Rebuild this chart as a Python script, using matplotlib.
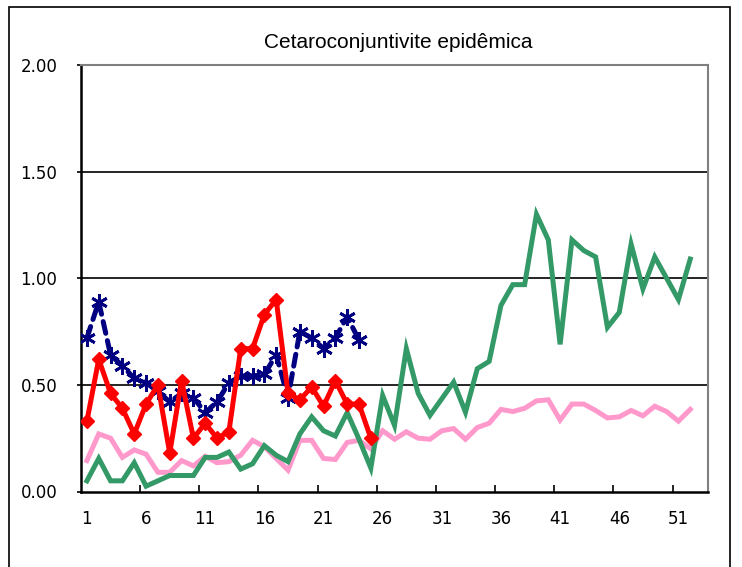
import matplotlib
matplotlib.use("Agg")
import matplotlib.pyplot as plt
from matplotlib.patches import Rectangle
import numpy as np

title = "Cetaroconjuntivite epidêmica"
n_categories = 53
x_labels = ["1", "6", "11", "16", "21", "26", "31", "36", "41", "46", "51"]
x_label_pos = [1, 6, 11, 16, 21, 26, 31, 36, 41, 46, 51]
y_ticks = [0.0, 0.5, 1.0, 1.5, 2.0]

navy_values = [0.72, 0.89, 0.64, 0.59, 0.53, 0.51, 0.47, 0.42, 0.46, 0.44,
               0.37, 0.42, 0.51, 0.54, 0.54, 0.55, 0.64, 0.44, 0.75, 0.72,
               0.67, 0.72, 0.82, 0.71]
red_values = [0.33, 0.62, 0.46, 0.39, 0.27, 0.41, 0.50, 0.18, 0.52, 0.25,
              0.32, 0.25, 0.28, 0.67, 0.67, 0.83, 0.90, 0.46, 0.43, 0.49,
              0.40, 0.52, 0.41, 0.41, 0.25]
pink_values = [0.145, 0.27, 0.25, 0.16, 0.195, 0.175, 0.09, 0.09, 0.145, 0.12,
               0.165, 0.135, 0.14, 0.17, 0.24, 0.21, 0.155, 0.10, 0.24, 0.24,
               0.155, 0.15, 0.23, 0.24, 0.20, 0.285, 0.245, 0.28, 0.25, 0.245,
               0.285, 0.295, 0.245, 0.30, 0.32, 0.385, 0.375, 0.39, 0.425, 0.43,
               0.335, 0.41, 0.41, 0.38, 0.345, 0.35, 0.38, 0.355, 0.40, 0.375,
               0.33, 0.385]
green_values = [0.05, 0.155, 0.05, 0.05, 0.135, 0.025, 0.05, 0.075, 0.075, 0.075,
                0.16, 0.16, 0.185, 0.105, 0.13, 0.215, 0.17, 0.14, 0.27, 0.35,
                0.285, 0.26, 0.37, 0.245, 0.11, 0.45, 0.31, 0.67, 0.46, 0.357,
                0.435, 0.513, 0.372, 0.576, 0.61, 0.873, 0.97, 0.97, 1.30, 1.18,
                0.69, 1.18, 1.13, 1.10, 0.77, 0.84, 1.16, 0.95, 1.10, 1.00,
                0.90, 1.09]

fig = plt.figure(figsize=(7.42, 5.67), dpi=100)
fig.patches.append(Rectangle((9 / 742, -0.05), (730 - 9) / 742, 1.05 - 7 / 567,
                             transform=fig.transFigure, fill=False,
                             edgecolor="black", linewidth=1.2, zorder=0))

ax = fig.add_axes([81 / 742, (567 - 491.5) / 567, (708 - 81) / 742, (491.5 - 65) / 567])

for yv in [0.5, 1.0, 1.5]:
    ax.axhline(yv, color="black", linewidth=1.2, zorder=1)

lw = 3.6
ax.plot(np.arange(1, len(pink_values) + 1), pink_values, color="#FF99CC",
        linewidth=lw, solid_joinstyle="miter", zorder=2)
ax.plot(np.arange(1, len(green_values) + 1), green_values, color="#339966",
        linewidth=lw, solid_joinstyle="miter", zorder=3)
ax.plot(np.arange(1, len(navy_values) + 1), navy_values, color="#000080",
        linewidth=lw, linestyle=(0, (2.4, 1.5)), dash_capstyle="round",
        marker=(6, 2, 0), markersize=12, markeredgewidth=2.0,
        markeredgecolor="#000080", zorder=4)
ax.plot(np.arange(1, len(red_values) + 1), red_values, color="#FF0000",
        linewidth=lw, marker="D", markersize=7.5, markerfacecolor="#FF0000",
        markeredgecolor="#FF0000", zorder=5)

ax.set_xlim(0.5, n_categories + 0.5)
ax.set_ylim(0, 2.0)

ax.set_xticks(np.arange(5.5, 51, 5))
ax.set_xticklabels([])
ax.set_xticks(x_label_pos, minor=True)
ax.set_xticklabels(x_labels, minor=True)
ax.tick_params(axis="x", which="major", direction="in", length=5, width=1.2)
ax.tick_params(axis="x", which="minor", length=0, pad=13, labelsize=12)

ax.set_yticks(y_ticks)
ax.set_yticklabels([f"{v:.2f}" for v in y_ticks])
ax.tick_params(axis="y", length=3, width=1.2, direction="out", pad=14, labelsize=12)

ax.spines["left"].set_linewidth(1.8)
ax.spines["bottom"].set_linewidth(1.8)
ax.spines["top"].set_color("#808080")
ax.spines["right"].set_color("#808080")
ax.spines["top"].set_linewidth(1.5)
ax.spines["right"].set_linewidth(1.5)

fig.text(398 / 742, 1 - 42 / 567, title, ha="center", va="center",
         fontsize=15, family=["Liberation Sans", "DejaVu Sans"])

fig.savefig("out.png", dpi=100)
